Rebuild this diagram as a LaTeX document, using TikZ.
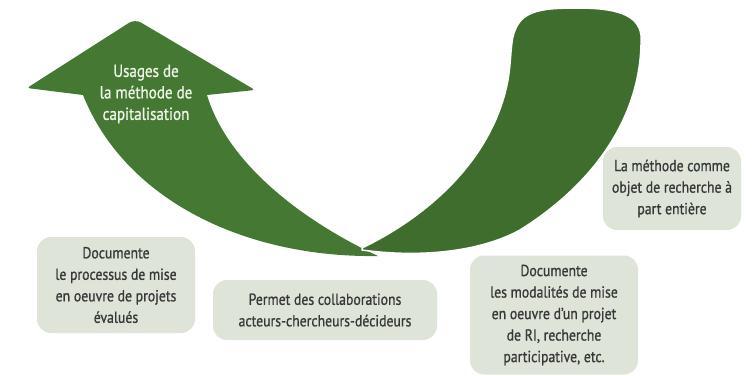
\documentclass[tikz,border=0pt]{standalone}
\usepackage{fontspec}
\setmainfont{PT Sans}[FakeStretch=0.86,FakeBold=0.9]
\definecolor{leftgreen}{HTML}{457832}
\definecolor{rightgreen}{HTML}{3F6D2D}
\definecolor{boxfill}{HTML}{DEE5D8}
\definecolor{textgrey}{HTML}{383838}
\definecolor{titlewhite}{HTML}{EEF4E8}
\tikzset{
  infobox/.style={fill=boxfill, rounded corners=14pt, text=textgrey, align=center,
    font=\fontsize{16}{21.5}\selectfont, inner sep=0pt},
  titletext/.style={text=titlewhite, align=center, font=\fontsize{17.5}{21.5}\selectfont}
}
\begin{document}
\begin{tikzpicture}[x=1pt,y=-1pt]
\useasboundingbox (0,0) rectangle (755,375);
% left arrow
\fill[leftgreen] (378,256) .. controls (245,258) and (125,200) .. (83,95)
  [rounded corners=3pt] -- (27,88) [rounded corners=7pt] -- (135,19) [rounded corners=3pt] -- (255,90)
  [sharp corners] -- (207,95) .. controls (228,165) and (305,222) .. (378,256) -- cycle;
% right swoosh
\fill[rightgreen, draw=white, line width=1.5pt] (362,248) .. controls (440,210) and (495,150) .. (508,80)
  .. controls (512,55) and (510,40) .. (516,28)
  .. controls (524,10) and (545,8) .. (577,8)
  .. controls (615,8) and (638,14) .. (641,35)
  .. controls (643,110) and (600,180) .. (520,230)
  .. controls (480,252) and (420,258) .. (362,250) -- cycle;
\node[titletext] (title) at (146,94) {Usages de\\la méthode de\\capitalisation};
\node[infobox, minimum width=158pt, minimum height=96pt] (b1) at (116,285)
  {Documente\\le processus de mise\\en oeuvre de projets\\évalués};
\node[infobox, minimum width=224pt, minimum height=60pt] (b2) at (325,310)
  {Permet des collaborations\\acteurs-chercheurs-décideurs};
\node[infobox, minimum width=168pt, minimum height=119pt] (b3) at (554,315)
  {Documente\\les modalités de mise\\en oeuvre d’un projet\\de RI, recherche\\participative, etc.};
\node[infobox, minimum width=138pt, minimum height=83pt] (b4) at (672,188.5)
  {La méthode comme\\objet de recherche à\\part entière};
\end{tikzpicture}
\end{document}
